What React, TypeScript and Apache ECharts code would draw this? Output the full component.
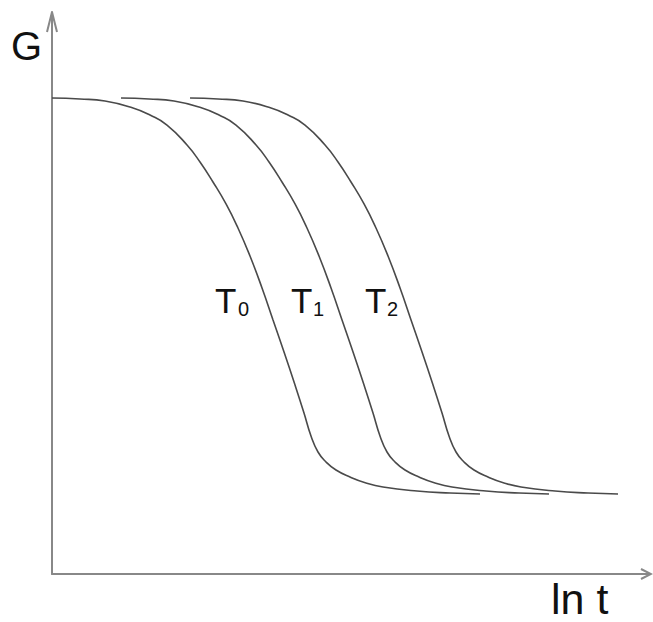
import React, { useEffect, useRef } from "react";
import * as echarts from "echarts";

// Relaxation modulus G against ln t at three temperatures T0 < T1 < T2.
// The three curves share the same G levels; each has its own ln t positions.
const gValues = [
  84.7, 84.52, 84.16, 82.92, 81.67, 79.89, 76.33, 73.31, 69.75, 65.84, 61.57, 56.58,
  50.89, 45.2, 39.5, 33.63, 28.65, 24.56, 21.71, 19.93, 18.51, 17.26, 16.19, 15.48,
  14.77, 14.41, 14.23,
];
const lnT0 = [
  0, 4.68, 8.86, 13.55, 16.39, 19.23, 22.58, 24.75, 26.92, 29.1, 31.1, 33.11,
  35.12, 36.96, 38.8, 40.64, 42.14, 43.31, 44.48, 45.82, 47.49, 49.83, 52.51, 55.35,
  61.04, 66.56, 71.57,
];
const lnT1 = [
  11.54, 16.22, 20.4, 25.09, 27.93, 30.77, 34.12, 36.29, 38.46, 40.64, 42.64, 44.65,
  46.66, 48.5, 50.34, 52.18, 53.68, 54.85, 56.02, 57.36, 59.03, 61.37, 64.05, 66.89,
  72.58, 78.1, 83.11,
];
const lnT2 = [
  23.08, 27.76, 31.94, 36.63, 39.47, 42.31, 45.66, 47.83, 50.0, 52.18, 54.18, 56.19,
  58.2, 60.04, 61.88, 63.72, 65.22, 66.39, 67.56, 68.9, 70.57, 72.91, 75.59, 78.43,
  84.12, 89.64, 94.65,
];
const curveNames = ["T0", "T1", "T2"];
const subscripts = ["0", "1", "2"];

const AXIS = "#888888";
const CURVE = "#4a4a4a";
const INK = "#111111";
const FONT = "'Liberation Sans', Arial, sans-serif";

export default function App() {
  const ref = useRef<HTMLDivElement>(null);

  useEffect(() => {
    if (!ref.current) return;
    const chart = echarts.init(ref.current, null, { renderer: "svg" });

    const axisCommon = {
      type: "value" as const,
      min: 0,
      max: 100,
      axisLine: { show: true, lineStyle: { color: AXIS, width: 2 } },
      axisTick: { show: false },
      axisLabel: { show: false },
      splitLine: { show: false },
    };

    const lnTs = [lnT0, lnT1, lnT2];
    const labelLeft = [215, 291, 365];
    const subLeft = [238, 313, 387];

    const tLabels: any[] = [];
    curveNames.forEach((_, i) => {
      tLabels.push({
        type: "text",
        left: labelLeft[i],
        top: 283,
        style: { text: "T", font: `35px ${FONT}`, fill: INK },
      });
      tLabels.push({
        type: "text",
        left: subLeft[i],
        top: 299,
        style: { text: subscripts[i], font: `20px ${FONT}`, fill: INK },
      });
    });

    chart.setOption({
      animation: false,
      backgroundColor: "#ffffff",
      grid: { left: 52, right: 3, top: 12, bottom: 48 },
      xAxis: axisCommon,
      yAxis: axisCommon,
      series: lnTs.map((xs, i) => ({
        name: curveNames[i],
        type: "line",
        data: xs.map((x, k) => [x, gValues[k]]),
        smooth: 0.5,
        showSymbol: false,
        lineStyle: { color: CURVE, width: 1.6 },
      })),
      graphic: [
        {
          type: "polyline",
          shape: { points: [[47, 32], [52, 12], [57, 32]] },
          style: { stroke: AXIS, lineWidth: 2, fill: "none" },
        },
        {
          type: "polyline",
          shape: { points: [[641, 569], [651, 574], [641, 579]] },
          style: { stroke: AXIS, lineWidth: 2, fill: "none" },
        },
        {
          type: "text",
          left: 11,
          top: 26,
          style: { text: "G", font: `40px ${FONT}`, fill: INK },
        },
        {
          type: "text",
          left: 551,
          top: 577,
          style: { text: "ln t", font: `43px ${FONT}`, fill: INK },
        },
        ...tLabels,
      ],
    });

    return () => chart.dispose();
  }, []);

  return (
    <div
      ref={ref}
      style={{ position: "fixed", left: 0, top: 0, width: 653, height: 622, background: "#fff" }}
    />
  );
}
